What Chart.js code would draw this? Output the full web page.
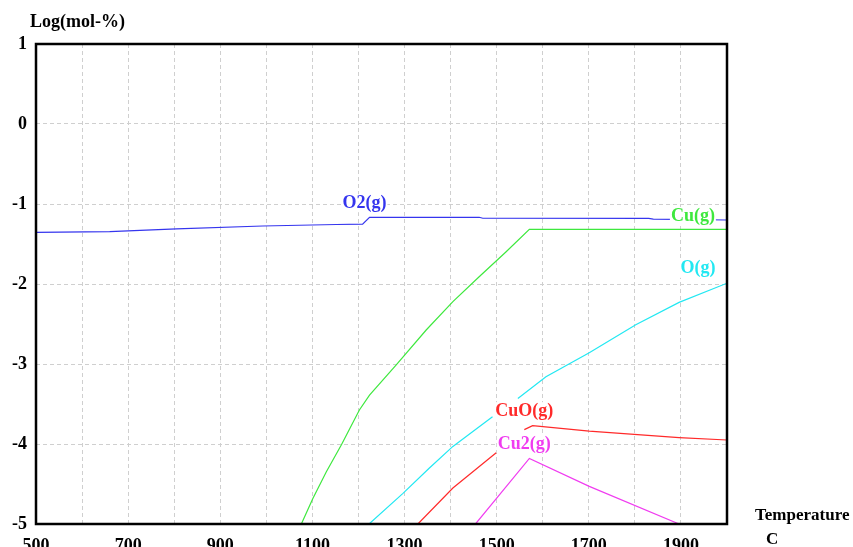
<!DOCTYPE html>
<html lang="en">

<head>
    <meta charset="UTF-8">
    <title>Log(mol-%) vs Temperature</title>
    <style>
        body {
            margin: 0;
            background: #fff;
        }

        .chart-box {
            width: 853px;
            height: 547px;
        }
    </style>
    <script src="https://cdn.jsdelivr.net/npm/chart.js"></script>
</head>

<body>
    <div class="chart-box">
        <canvas id="myChart" width="853" height="547"></canvas>
    </div>
    <script>
        // data: [temperature C, log(mol-%)], null = gap in the curve
        var o2 = [[500, -1.354], [660, -1.346], [805, -1.31], [992, -1.275], [1152, -1.256], [1209, -1.252],
            [1224, -1.166], [1462, -1.166], [1470, -1.178], [1830, -1.18], [1840, -1.19], [2000, -1.2]];
        var cu = [[1076, -5], [1101, -4.68], [1130, -4.35], [1163, -4.01], [1202, -3.575], [1224, -3.39],
            [1282, -3.01], [1347, -2.575], [1405, -2.22], [1462, -1.91], [1520, -1.6], [1571, -1.316],
            [2000, -1.316]];
        var o = [[1223, -5], [1296, -4.62], [1354, -4.30], [1405, -4.03], [1491, -3.66], [1520, null],
            [1546, -3.43], [1607, -3.16], [1701, -2.86], [1802, -2.51], [1896, -2.23], [2000, -1.99]];
        var cuo = [[1329, -5], [1405, -4.55], [1499, -4.11], [1530, null], [1560, -3.82], [1578, -3.77],
            [1701, -3.84], [1896, -3.92], [2000, -3.95]];
        var cu2 = [[1454, -5], [1571, -4.18], [1701, -4.53], [1896, -5]];

        var names = ["O2(g)", "Cu(g)", "O(g)", "CuO(g)", "Cu2(g)"];
        var colors = ["#3535ee", "#3ee83e", "#22e8f2", "#ff2a2a", "#f03cf0"];
        // where each curve name sits, in data units
        var labelPos = [[1213, -0.99], [1926, -1.15], [1937, -1.81], [1560, -3.59], [1560, -4.0]];

        var xTicks = [500, 700, 900, 1100, 1300, 1500, 1700, 1900];

        var font = "bold 18px 'Liberation Serif', 'Times New Roman', serif";

        function toPoints(arr) {
            return arr.map(function (p) { return { x: p[0], y: p[1] }; });
        }

        // curve names, axis titles and the black frame
        var extras = {
            id: "extras",
            afterDatasetsDraw: function (chart) {
                var ctx = chart.ctx;
                var a = chart.chartArea;
                var xs = chart.scales.x;
                var ys = chart.scales.y;
                ctx.save();
                ctx.font = font;
                ctx.textAlign = "center";
                ctx.textBaseline = "middle";
                names.forEach(function (n, i) {
                    var px = xs.getPixelForValue(labelPos[i][0]);
                    var py = ys.getPixelForValue(labelPos[i][1]);
                    var w = ctx.measureText(n).width;
                    ctx.fillStyle = "#fff";
                    ctx.fillRect(px - w / 2 - 1, py - 9, w + 2, 18);
                    ctx.fillStyle = colors[i];
                    ctx.fillText(n, px, py);
                });

                ctx.strokeStyle = "#000";
                ctx.lineWidth = 2.5;
                ctx.strokeRect(a.left, a.top, a.right - a.left, a.bottom - a.top);

                ctx.fillStyle = "#000";
                ctx.textAlign = "left";
                ctx.fillText("Log(mol-%)", 30, 22);
                ctx.font = "bold 17px 'Liberation Serif', 'Times New Roman', serif";
                ctx.fillText("Temperature", 755, 516);
                ctx.fillText("C", 766, 540);
                ctx.restore();
            }
        };

        var ctx = document.getElementById("myChart").getContext("2d");
        var myChart = new Chart(ctx, {
            type: "line",
            data: {
                datasets: [o2, cu, o, cuo, cu2].map(function (d, i) {
                    return {
                        label: names[i],
                        data: toPoints(d),
                        borderColor: colors[i],
                        borderWidth: 1.2,
                        pointRadius: 0,
                        tension: 0,
                        spanGaps: false
                    };
                })
            },
            options: {
                responsive: false,
                animation: false,
                layout: {
                    padding: { top: 44, right: 126, left: 0, bottom: 0 }
                },
                plugins: {
                    legend: { display: false },
                    tooltip: { enabled: false }
                },
                scales: {
                    x: {
                        type: "linear",
                        min: 500,
                        max: 2000,
                        afterFit: function (s) { s.height = 23; },
                        grid: { color: "#cfcfcf", lineWidth: 1, drawTicks: false },
                        border: { display: false, dash: [4, 3] },
                        ticks: {
                            stepSize: 100,
                            padding: 12,
                            maxRotation: 0,
                            autoSkip: false,
                            color: "#000",
                            font: { family: "'Liberation Serif', serif", size: 18, weight: "bold" },
                            callback: function (v) {
                                return xTicks.indexOf(v) >= 0 ? String(v) : "";
                            }
                        }
                    },
                    y: {
                        min: -5,
                        max: 1,
                        afterFit: function (s) { s.width = 36; },
                        grid: { color: "#cfcfcf", lineWidth: 1, drawTicks: false },
                        border: { display: false, dash: [4, 3] },
                        ticks: {
                            stepSize: 1,
                            padding: 9,
                            color: "#000",
                            font: { family: "'Liberation Serif', serif", size: 18, weight: "bold" }
                        }
                    }
                }
            },
            plugins: [extras]
        });
    </script>
</body>

</html>
